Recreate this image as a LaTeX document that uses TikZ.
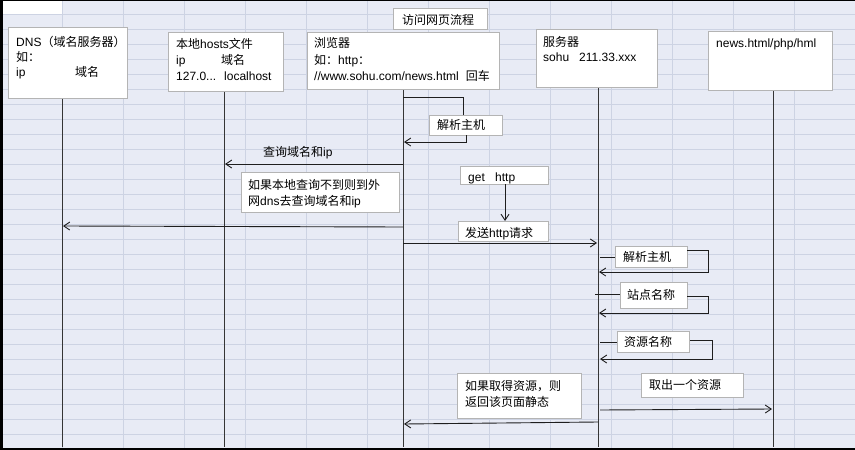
\documentclass[tikz,border=0pt]{standalone}
\usepackage{fontspec}
\setmainfont{Liberation Sans}
\newfontfamily\cjk{Noto Sans CJK SC}
\usetikzlibrary{arrows.meta}
\newcommand\zh[1]{{\cjk #1}}
\definecolor{sheet}{HTML}{E8EBF5}
\definecolor{gridc}{HTML}{CDD3E3}
\definecolor{boxedge}{HTML}{B4B4B4}
\definecolor{ink}{HTML}{1E1E1E}

\begin{document}
\begin{tikzpicture}[x=1pt,y=-1pt,
  every node/.style={font=\fontsize{12}{14}\selectfont, text=black},
  card/.style={draw=boxedge, line width=1.2pt, fill=white, anchor=north west, inner sep=0pt},
  txt/.style={anchor=base west, inner sep=0pt},
  life/.style={draw=ink!90, line width=1pt},
  link/.style={draw=ink, line width=0.9pt},
  msg/.style={link, -{Straight Barb[length=6pt,width=8pt]}}]

\useasboundingbox (0,0) rectangle (855,450);

% spreadsheet background
\fill[sheet] (0,0) rectangle (855,450);
\foreach \k in {0,...,29} \draw[gridc, line width=1pt] (0,14+15*\k) -- (855,14+15*\k);
\foreach \k in {0,...,12} \draw[gridc, line width=1pt] (62+61*\k,0) -- (62+61*\k,450);
\fill[white] (2,1) rectangle (61.5,13.5);
\fill[black] (0,0) rectangle (2.5,450);
\fill[black] (0,0) rectangle (855,1);
\fill[black] (0,447.5) rectangle (855,450);

% lifelines
\coordinate (dnsA) at (62,98);   \coordinate (dnsB) at (62,447);
\coordinate (hosA) at (224,91);  \coordinate (hosB) at (224,447);
\coordinate (brA) at (403,89);   \coordinate (brB) at (403,447);
\coordinate (svA) at (598,87);   \coordinate (svB) at (598,447);
\coordinate (nwA) at (773,90);   \coordinate (nwB) at (773,447);
\draw[life] (dnsA) -- (dnsB);
\draw[life] (hosA) -- (hosB);
\draw[life] (brA) -- (brB);
\draw[life] (svA) -- (svB);
\draw[life] (nwA) -- (nwB);

% participants
\node[card, minimum width=119pt, minimum height=71pt] (dns) at (8,27) {};
\node[txt] (dns1) at (16,46) {DNS\zh{（域名服务器）}};
\node[txt] (dns2) at (16,61) {\zh{如：}};
\node[txt] (dns3) at (16,76) {ip};
\node[txt] (dns4) at (75,76) {\zh{域名}};

\node[card, minimum width=115pt, minimum height=59pt] (hosts) at (168,32) {};
\node[txt] (hos1) at (176,48) {\zh{本地}hosts\zh{文件}};
\node[txt] (hos2) at (176,64) {ip};
\node[txt] (hos3) at (221,64) {\zh{域名}};
\node[txt] (hos4) at (176,80) {127.0...};
\node[txt] (hos5) at (224,80) {localhost};

\node[card, minimum width=94pt, minimum height=21pt] (title) at (393,8) {};
\node[txt] (tit1) at (402,24) {\zh{访问网页流程}};

\node[card, minimum width=192pt, minimum height=57pt] (browser) at (307,32) {};
\node[txt] (br1) at (314,47) {\zh{浏览器}};
\node[txt] (br2) at (314,64) {\zh{如：}http\zh{：}};
\node[txt] (br3) at (314,80) {//www.sohu.com/news.html\hspace{7pt}\zh{回车}};

\node[card, minimum width=121pt, minimum height=58pt] (server) at (536,29) {};
\node[txt] (sv1) at (543,46) {\zh{服务器}};
\node[txt] (sv2) at (543,61) {sohu};
\node[txt] (sv3) at (579,61) {211.33.xxx};

\node[card, minimum width=124pt, minimum height=59pt] (news) at (708,31) {};
\node[txt] (nw1) at (716,47) {news.html/php/hml};

% browser resolves the host name
\coordinate (p1) at (403,97);  \coordinate (p2) at (463,97);  \coordinate (p3) at (463,115);
\draw[link] (p1) -- (p2) -- (p3);
\node[card, minimum width=73pt, minimum height=20pt] (bparse) at (429,115) {};
\node[txt] (bparseT) at (437,129) {\zh{解析主机}};
\coordinate (p4) at (466,135); \coordinate (p5) at (466,142); \coordinate (p6) at (404,142);
\draw[msg] (p4) -- (p5) -- (p6);

% lookup in hosts
\coordinate (q1) at (403,164); \coordinate (q2) at (225,164);
\draw[msg] (q1) -- (q2);
\node[txt] (qT) at (263,156) {\zh{查询域名和}ip};

\node[card, minimum width=158pt, minimum height=40pt] (fallback) at (241,172) {};
\node[txt] (fb1) at (248,189) {\zh{如果本地查询不到则到外}};
\node[txt] (fb2) at (248,205) {\zh{网}dns\zh{去查询域名和}ip};

% lookup in DNS
\coordinate (d1) at (403,227); \coordinate (d2) at (63,226);
\draw[msg] (d1) -- (d2);

% http request
\node[card, minimum width=88pt, minimum height=18pt] (get) at (460,166) {};
\node[txt] (getA) at (468,181) {get};
\node[txt] (getB) at (495,181) {http};
\coordinate (g1) at (505,184); \coordinate (g2) at (505,221);
\draw[msg] (g1) -- (g2);

\node[card, minimum width=90pt, minimum height=20pt] (send) at (458,221) {};
\node[txt] (sendT) at (465,237) {\zh{发送}http\zh{请求}};
\coordinate (r1) at (403,243); \coordinate (r2) at (597,243);
\draw[msg] (r1) -- (r2);

% server side steps
\node[card, minimum width=72pt, minimum height=21pt] (sparse) at (615,246) {};
\node[txt] (sparseT) at (623,261) {\zh{解析主机}};
\coordinate (s1) at (600,257); \coordinate (s2) at (615,257);
\draw[link] (s1) -- (s2);
\coordinate (s3) at (687,250); \coordinate (s4) at (708,250);
\coordinate (s5) at (708,272); \coordinate (s6) at (599,272);
\draw[msg] (s3) -- (s4) -- (s5) -- (s6);

\node[card, minimum width=67pt, minimum height=26pt] (site) at (620,282) {};
\node[txt] (siteT) at (627,299) {\zh{站点名称}};
\coordinate (t1) at (595,294); \coordinate (t2) at (620,294);
\draw[link] (t1) -- (t2);
\coordinate (t3) at (687,296); \coordinate (t4) at (708,296);
\coordinate (t5) at (708,313); \coordinate (t6) at (599,313);
\draw[msg] (t3) -- (t4) -- (t5) -- (t6);

\node[card, minimum width=72pt, minimum height=21pt] (res) at (617,331) {};
\node[txt] (resT) at (624,346) {\zh{资源名称}};
\coordinate (u1) at (600,342); \coordinate (u2) at (617,342);
\draw[link] (u1) -- (u2);
\coordinate (u3) at (690,340); \coordinate (u4) at (712,340);
\coordinate (u5) at (712,359); \coordinate (u6) at (600,359);
\draw[msg] (u3) -- (u4) -- (u5) -- (u6);

% fetch and return
\node[card, minimum width=102pt, minimum height=24pt] (fetch) at (641,373) {};
\node[txt] (fetchT) at (649,389) {\zh{取出一个资源}};
\coordinate (f1) at (600,410); \coordinate (f2) at (772,409);
\draw[msg] (f1) -- (f2);

\node[card, minimum width=124pt, minimum height=45pt] (back) at (457,373) {};
\node[txt] (back1) at (465,390) {\zh{如果取得资源，则}};
\node[txt] (back2) at (465,406) {\zh{返回该页面静态}};
\coordinate (b1) at (598,422); \coordinate (b2) at (404,424);
\draw[msg] (b1) -- (b2);

\end{tikzpicture}
\end{document}
